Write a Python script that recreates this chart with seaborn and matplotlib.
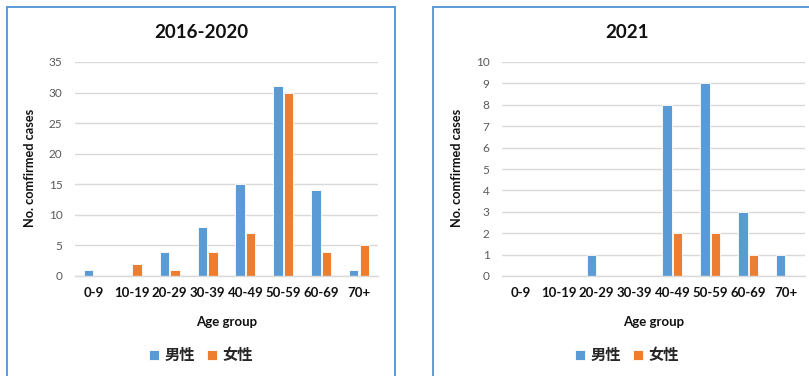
import matplotlib
matplotlib.use("Agg")
import matplotlib.pyplot as plt
from matplotlib.patches import Rectangle
import pandas as pd
import seaborn as sns

# Case counts by age group and sex
age_groups = ["0-9", "10-19", "20-29", "30-39", "40-49", "50-59", "60-69", "70+"]
sexes = ["男性", "女性"]
male_2016_2020 = [1, 0, 4, 8, 15, 31, 14, 1]
female_2016_2020 = [0, 2, 1, 4, 7, 30, 4, 5]
male_2021 = [0, 0, 1, 0, 8, 9, 3, 1]
female_2021 = [0, 0, 0, 0, 2, 2, 1, 0]
titles = ["2016-2020", "2021"]
y_ticks_2016_2020 = [0, 5, 10, 15, 20, 25, 30, 35]
y_ticks_2021 = [0, 1, 2, 3, 4, 5, 6, 7, 8, 9, 10]

sns.set_theme(style="white")
plt.rcParams["font.family"] = ["Lato", "Noto Sans CJK SC", "DejaVu Sans"]

W, H = 809, 376
fig = plt.figure(figsize=(W / 100, H / 100), dpi=100)
fig.patch.set_facecolor("white")

palette = {"男性": "#5B9BD5", "女性": "#ED7D31"}


def long_frame(male, female):
    rows = []
    for g, m, f in zip(age_groups, male, female):
        rows.append({"age": g, "sex": sexes[0], "n": m})
        rows.append({"age": g, "sex": sexes[1], "n": f})
    return pd.DataFrame(rows)


def px_axes(x0, x1, ytop, ybot):
    return fig.add_axes([x0 / W, 1 - ybot / H, (x1 - x0) / W, (ybot - ytop) / H])


panels = [
    # panel box left edge, axes x range, data, ticks
    (7, (75, 378), male_2016_2020, female_2016_2020, y_ticks_2016_2020),
    (433, (502, 805), male_2021, female_2021, y_ticks_2021),
]
panel_w = 388

for (bx, (ax0, ax1), male, female, ticks), title in zip(panels, titles):
    # chart frame
    fig.patches.append(Rectangle((bx / W, -0.05), panel_w / W, 1.05 - 6.5 / H,
                                 transform=fig.transFigure, fill=False,
                                 edgecolor="#5B9BD5", linewidth=1.4))
    ax = px_axes(ax0, ax1, 62, 276)
    df = long_frame(male, female)
    sns.barplot(data=df, x="age", y="n", hue="sex", order=age_groups,
                hue_order=sexes, palette=palette, saturation=1, width=0.56,
                gap=0.12, edgecolor="white", linewidth=0.6, ax=ax, legend=True)
    ax.set_ylim(ticks[0], ticks[-1])
    ax.set_yticks(ticks)
    ax.set_xlim(-0.5, len(age_groups) - 0.5)
    ax.yaxis.grid(True, color="#D9D9D9", linewidth=1.0)
    ax.set_axisbelow(True)
    for s in ["left", "right", "top"]:
        ax.spines[s].set_visible(False)
    ax.spines["bottom"].set_color("#D9D9D9")
    ax.spines["bottom"].set_linewidth(1.0)
    ax.tick_params(axis="y", length=0, pad=9, labelsize=8.5, labelcolor="#595959")
    ax.tick_params(axis="x", length=0, pad=8, labelsize=9.5, labelcolor="#111111")
    for lab in ax.get_xticklabels():
        lab.set_fontweight("bold")
    ax.set_ylabel("No. comfirmed cases", fontsize=9.2, fontweight="bold", color="#111111")
    ax.set_xlabel("Age group", fontsize=9.5, fontweight="bold", color="#111111")
    ax.yaxis.set_label_coords(-0.129, 0.505)
    ax.xaxis.set_label_coords(0.5, -0.187)

    cx = (bx + panel_w / 2) / W
    fig.text(cx, 1 - 32 / H, title, ha="center", va="center", fontsize=13.5,
             fontweight="bold", color="#111111")

    handles, labels = ax.get_legend_handles_labels()
    ax.get_legend().remove()
    fig.legend(handles, labels, loc="center", bbox_to_anchor=(cx, 1 - 355 / H),
               ncol=2, frameon=False, handlelength=0.65, handleheight=0.65,
               handletextpad=0.35, columnspacing=0.8,
               prop={"family": ["Noto Sans CJK SC"], "weight": "heavy", "size": 11})

fig.savefig("out.png", dpi=100, facecolor="white")
